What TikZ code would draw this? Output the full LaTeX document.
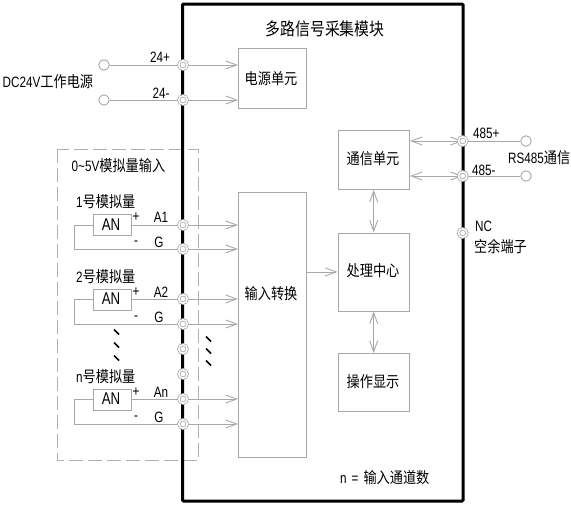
\documentclass[tikz,border=0pt]{standalone}
\usepackage{fontspec}
\setmainfont{Noto Sans CJK SC}
\newfontfamily\latinf[FakeStretch=0.78]{Liberation Sans}
\newfontfamily\cnf[FakeStretch=0.85]{Noto Sans CJK SC}
\newcommand{\zh}[1]{{\cnf\fontsize{15.5}{16}\selectfont #1}}
\usetikzlibrary{arrows.meta,calc}
\definecolor{wire}{HTML}{A8A8A8}
\definecolor{dashc}{HTML}{B0B0B0}
\tikzset{
  wire/.style={draw=wire,line width=0.9pt},
  arr/.style={wire,-{Straight Barb[length=11pt,width=8pt,color=wire]}},
  darr/.style={wire,{Straight Barb[length=11pt,width=8pt,color=wire]}-{Straight Barb[length=11pt,width=8pt,color=wire]}},
  blockbox/.style={draw=wire,line width=0.9pt,fill=white,inner sep=0pt},
  term/.style={circle,draw=wire,fill=white,double=white,double distance=1.5pt,line width=0.8pt,inner sep=0pt,minimum size=8.5pt},
  free/.style={circle,draw=wire,fill=white,line width=0.9pt,inner sep=0pt,minimum size=10.5pt},
  cn/.style={font=\cnf\fontsize{15.5}{16}\selectfont,inner sep=0pt,text=black},
  lat/.style={font=\fontsize{15}{16}\selectfont\latinf,inner sep=0pt,text=black},
  anlab/.style={font=\fontsize{17}{18}\selectfont\latinf,inner sep=0pt,text=black},
  tick/.style={line width=1.5pt,black},
}
\begin{document}
\begin{tikzpicture}[x=1pt,y=-1pt]
\useasboundingbox (0,0) rectangle (571,506);
% dashed group
\draw[dashc,line width=0.9pt,dash pattern=on 14pt off 5pt] (57,149) rectangle (198.5,460);
% module outline
\draw[black,line width=3pt,rounded corners=1pt] (182.5,4) rectangle (463,501);
% blocks
\node[blockbox,minimum width=67.5pt,minimum height=60pt,anchor=north west] (pw) at (238,48) {};
\node[blockbox,minimum width=67.5pt,minimum height=265pt,anchor=north west] (inp) at (238,192) {};
\node[blockbox,minimum width=71.5pt,minimum height=59pt,anchor=north west] (com) at (337.5,130) {};
\node[blockbox,minimum width=71.5pt,minimum height=78pt,anchor=north west] (cpu) at (337.5,232.5) {};
\node[blockbox,minimum width=71.5pt,minimum height=58pt,anchor=north west] (dsp) at (337.5,353) {};
\node[blockbox,minimum width=38pt,minimum height=20.5pt,anchor=north west] (an1) at (92.5,214) {};
\node[blockbox,minimum width=38pt,minimum height=20.5pt,anchor=north west] (an2) at (92.5,289) {};
\node[blockbox,minimum width=38pt,minimum height=20.5pt,anchor=north west] (an3) at (92.5,389) {};
% terminals (coordinates first)
\coordinate (tp) at (183,65); \coordinate (tm) at (183,100);
\coordinate (a1) at (183,225); \coordinate (g1) at (183,249);
\coordinate (a2) at (183,299); \coordinate (g2) at (183,324);
\coordinate (x1) at (183,349); \coordinate (x2) at (183,374);
\coordinate (a3) at (183,399); \coordinate (g3) at (183,424);
\coordinate (rp) at (462.7,141); \coordinate (rm) at (462.7,176);
\coordinate (nc) at (462.7,233);
\node[free] (fp) at (104,65) {};
\node[free] (fm) at (104,100) {};
\node[free] (frp) at (526,141) {};
\node[free] (frm) at (526,176) {};
% wires
\draw[wire] (fp) -- (tp); \draw[wire] (fm) -- (tm);
\draw[arr] (tp) -- (tp -| pw.west);
\draw[arr] (tm) -- (tm -| pw.west);
\foreach \n/\a/\g in {an1/a1/g1,an2/a2/g2,an3/a3/g3}{
  \draw[wire] (\n.east |- \a) -- (\a);
  \draw[wire] (\n.west |- \a) -- (74,0 |- \a) -- (74,0 |- \g) -- (\g);
  \draw[arr] (\a) -- (\a -| inp.west);
  \draw[arr] (\g) -- (\g -| inp.west);
}
\draw[darr] (com.east |- rp) -- (rp);
\draw[darr] (com.east |- rm) -- (rm);
\draw[wire] (rp) -- (frp); \draw[wire] (rm) -- (frm);
\draw[darr] (com.south) -- (cpu.north);
\draw[darr] (cpu.south) -- (dsp.north);
\draw[arr] (inp.east |- cpu.west) -- (cpu.west);
% terminal symbols
\foreach \c in {tp,tm,a1,g1,a2,g2,x1,x2,a3,g3,rp,rm,nc}{ \node[term] (T\c) at (\c) {}; }
% ellipsis ticks
\foreach \y in {332,345,358}{ \draw[tick] (114,\y-2.5) -- (119,\y+2.5); }
\foreach \y in {339,351,363}{ \draw[tick] (206,\y-2.5) -- (211,\y+2.5); }
% texts
\node[font=\cnf\fontsize{17.5}{18}\selectfont,inner sep=0pt] (title) at (325,29) {多路信号采集模块};
\node[cn] (t1) at (271,79) {电源单元};
\node[cn] (t2) at (271,294) {输入转换};
\node[cn] (t3) at (373,159) {通信单元};
\node[cn] (t4) at (373,271) {处理中心};
\node[cn] (t5) at (373,382) {操作显示};
\node[lat,anchor=west] (l1) at (2.5,82) {DC24V\zh{工作电源}};
\node[lat] (l2) at (160,57) {24+};
\node[lat] (l3) at (161,93) {24-};
\node[lat,anchor=west] (l4) at (71.5,166) {0\textasciitilde5V\zh{模拟量输入}};
\node[lat,anchor=west] (n1) at (76,202) {1\zh{号模拟量}};
\node[lat,anchor=west] (n2) at (76,277) {2\zh{号模拟量}};
\node[lat,anchor=west] (n3) at (76,377) {n\zh{号模拟量}};
\node[anlab] (v1) at (111,225) {AN};
\node[anlab] (v2) at (111,299) {AN};
\node[anlab] (v3) at (111,399) {AN};
\foreach \y/\p/\m/\s/\nm in {217/243/A1/G/a,292/318/A2/G/b,392/418/An/G/c}{
  \node[lat] (p\nm) at (136,\y) {+};
  \node[lat] (s\nm) at (161,\y) {\m};
  \node[lat] (q\nm) at (136,\p) {-};
  \node[lat] (h\nm) at (159,\p-1) {\s};
}
\node[lat,anchor=west] (r1) at (473,133) {485+};
\node[lat,anchor=west] (r2) at (472,170) {485-};
\node[lat,anchor=west] (r3) at (508,158) {RS485\zh{通信}};
\node[lat,anchor=west] (r4) at (475,226) {NC};
\node[cn,anchor=west] (r5) at (474,247) {空余端子};
\node[lat,anchor=west] (b1) at (340,478) {n\hspace{5pt}=\hspace{5pt}\zh{输入通道数}};
\end{tikzpicture}
\end{document}
